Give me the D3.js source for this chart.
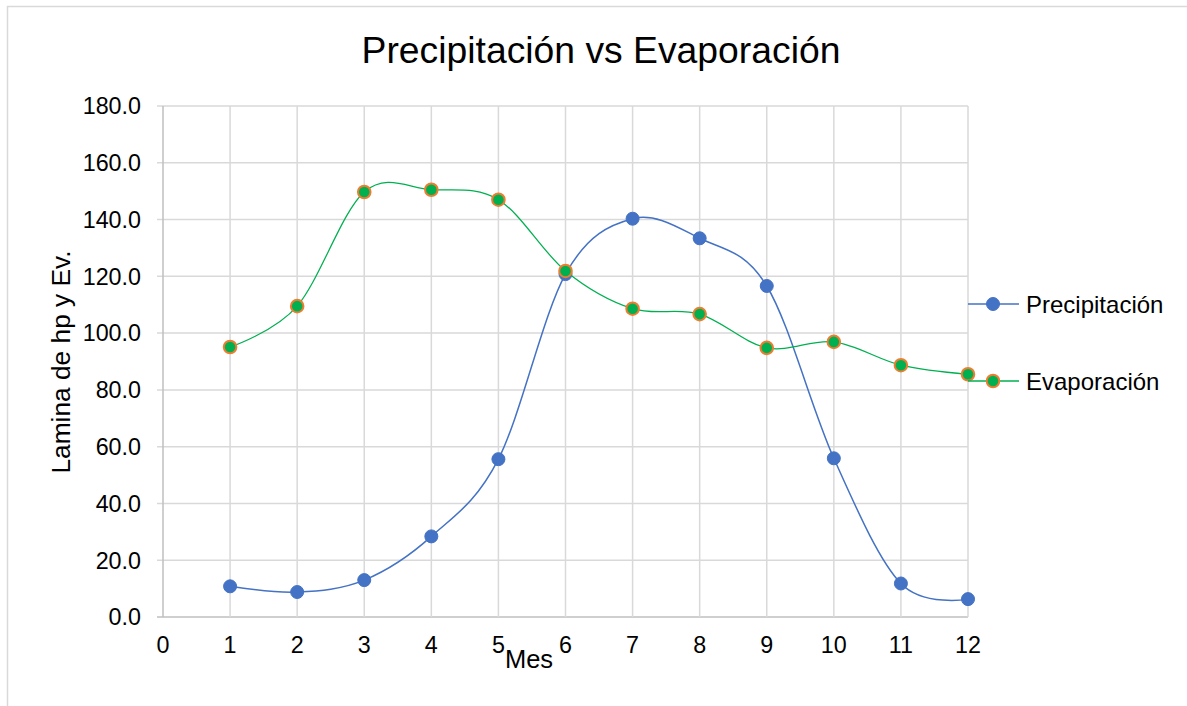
<!DOCTYPE html>
<html><head><meta charset="utf-8">
<script src="https://cdn.jsdelivr.net/npm/d3@7"></script>
<style>body{margin:0;background:#fff;font-family:Arial,"Liberation Sans",sans-serif}</style>
</head><body><svg id="c" width="1187" height="706"></svg>
<script>
const months = [1,2,3,4,5,6,7,8,9,10,11,12];
const precipitacion = [10.8,8.8,13.0,28.4,55.6,120.8,140.3,133.4,116.6,55.9,11.8,6.3];
const evaporacion = [95.1,109.5,149.7,150.5,147.0,121.9,108.6,106.7,94.8,96.9,88.7,85.5];
const xTicks = [0,1,2,3,4,5,6,7,8,9,10,11,12];
const yTicks = [0,20,40,60,80,100,120,140,160,180];
const seriesNames = ["Precipitación","Evaporación"];
const titleText = "Precipitación vs Evaporación";
const xTitle = "Mes";
const yTitle = "Lamina de hp y Ev.";

const svg = d3.select("#c");
svg.append("rect").attr("x",7.5).attr("y",6.5).attr("width",1200).attr("height",720)
  .attr("fill","#fff").attr("stroke","#d9d9d9").attr("stroke-width",1.5);

const x = d3.scaleLinear().domain([0,12]).range([163,968]);
const y = d3.scaleLinear().domain([0,180]).range([617,106]);

// grid
const g = svg.append("g");
g.selectAll(".hg").data(yTicks).join("line")
  .attr("x1",157).attr("x2",968).attr("y1",d=>y(d)).attr("y2",d=>y(d))
  .attr("stroke",d=>d===0?"#bfbfbf":"#d9d9d9").attr("stroke-width",1.5);
g.selectAll(".vg").data(xTicks.filter(d=>d>0)).join("line")
  .attr("x1",d=>x(d)).attr("x2",d=>x(d)).attr("y1",106).attr("y2",617)
  .attr("stroke","#d9d9d9").attr("stroke-width",1.5);
g.append("line").attr("x1",x(0)).attr("x2",x(0)).attr("y1",106).attr("y2",617)
  .attr("stroke","#bfbfbf").attr("stroke-width",1.5);

// tick labels
svg.selectAll(".yl").data(yTicks).join("text")
  .attr("x",141).attr("y",d=>y(d)).attr("dy","0.36em").attr("text-anchor","end")
  .attr("font-size",23.3).attr("fill","#000").text(d=>d.toFixed(1));
svg.selectAll(".xl").data(xTicks).join("text")
  .attr("x",d=>x(d)).attr("y",653).attr("text-anchor","middle")
  .attr("font-size",23.3).attr("fill","#000").text(d=>d);

// titles
svg.append("text").attr("x",601).attr("y",63).attr("text-anchor","middle")
  .attr("font-size",37.3).attr("fill","#000").text(titleText);
svg.append("text").attr("x",529).attr("y",668).attr("text-anchor","middle")
  .attr("font-size",25.5).attr("fill","#000").text(xTitle);
svg.append("text").attr("transform","translate(70,362) rotate(-90)").attr("text-anchor","middle")
  .attr("font-size",26.3).attr("fill","#000").text(yTitle);

const line = d3.line().x((d,i)=>x(months[i])).y(d=>y(d)).curve(d3.curveCardinal.tension(0));

// Precipitacion
svg.append("path").datum(precipitacion).attr("d",line).attr("fill","none")
  .attr("stroke","#4472C4").attr("stroke-width",1.5);
svg.selectAll(".pp").data(precipitacion).join("circle")
  .attr("cx",(d,i)=>x(months[i])).attr("cy",d=>y(d)).attr("r",6.5)
  .attr("fill","#4472C4").attr("stroke","#4472C4").attr("stroke-width",1);

// Evaporacion
svg.append("path").datum(evaporacion).attr("d",line).attr("fill","none")
  .attr("stroke","#00B050").attr("stroke-width",1.25);
svg.selectAll(".ep").data(evaporacion).join("circle")
  .attr("cx",(d,i)=>x(months[i])).attr("cy",d=>y(d)).attr("r",6.3)
  .attr("fill","#00B050").attr("stroke","#ED7D31").attr("stroke-width",2);

// legend
const leg = [{name:seriesNames[0],y:304,stroke:"#4472C4",fill:"#4472C4",ms:"#4472C4",r:6.5,sw:1},
             {name:seriesNames[1],y:381,stroke:"#00B050",fill:"#00B050",ms:"#ED7D31",r:6.3,sw:2}];
leg.forEach(l=>{
  svg.append("line").attr("x1",968).attr("x2",1019).attr("y1",l.y).attr("y2",l.y)
    .attr("stroke",l.stroke).attr("stroke-width",1.5);
  svg.append("circle").attr("cx",993).attr("cy",l.y).attr("r",l.r)
    .attr("fill",l.fill).attr("stroke",l.ms).attr("stroke-width",l.sw);
  svg.append("text").attr("x",1026).attr("y",l.y).attr("dy","0.36em")
    .attr("font-size",24).attr("fill","#000").text(l.name);
});
</script></body></html>
